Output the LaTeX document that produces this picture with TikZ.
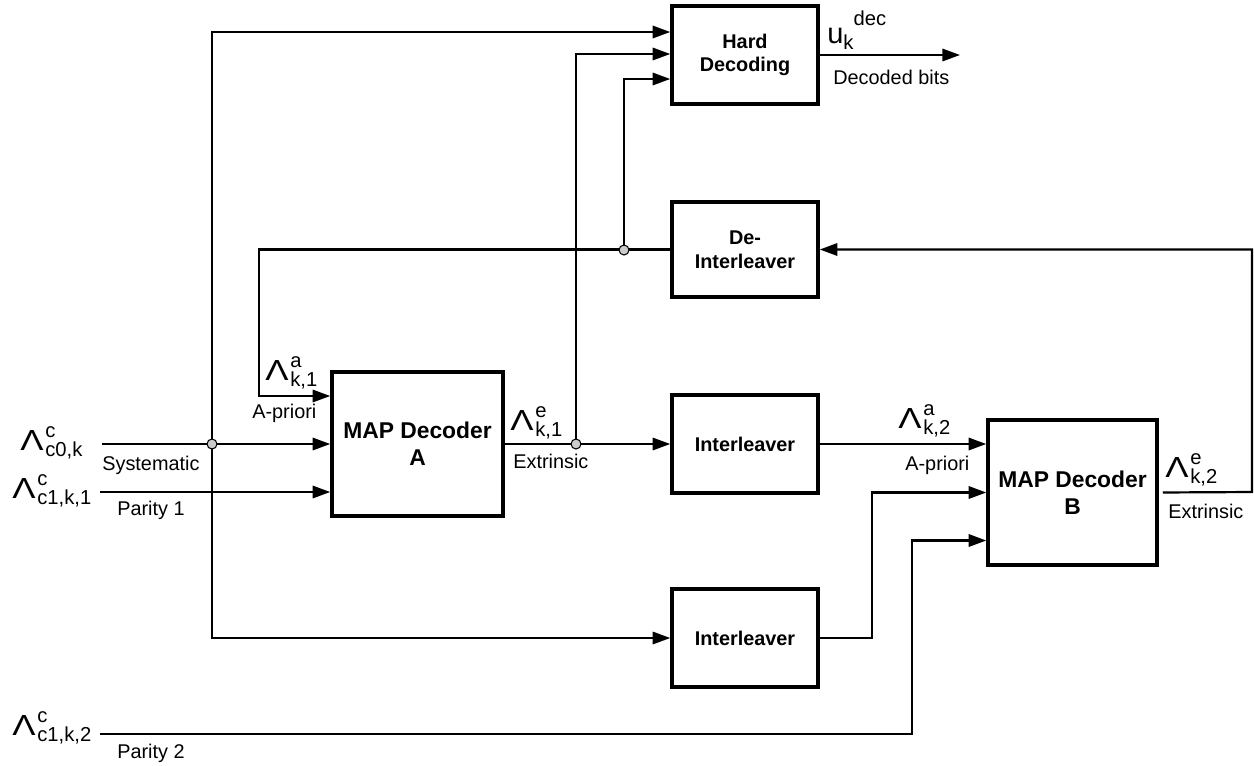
\documentclass[tikz,border=0pt]{standalone}
\usepackage{fontspec}
\usepackage{graphicx}
\setmainfont{Liberation Sans}
\usetikzlibrary{arrows.meta,calc}

% 对数似然比记号
\newcommand{\llr}[2]{\scalebox{1.2}[1]{\fontsize{16.5}{18}\selectfont Λ}\kern1pt\rlap{\raisebox{7pt}{\fontsize{11.5}{13}\selectfont #1}}\raisebox{-3.5pt}{\fontsize{11.5}{13}\selectfont #2}}

\begin{document}
\begin{tikzpicture}[x=0.02cm,y=-0.02cm,
    box/.style={draw, line width=2pt, align=center, inner sep=0pt,
        font=\fontsize{11.3}{13.5}\selectfont\bfseries},
    bigbox/.style={box, font=\fontsize{13}{15.5}\selectfont\bfseries},
    sig/.style={line width=1.25pt},
    flow/.style={sig, -{Triangle[length=10pt,width=7pt]}},
    lbl/.style={inner sep=0pt, anchor=base west, font=\fontsize{11.3}{13.5}\selectfont},
    joint/.style={circle, draw, fill=gray!40, line width=0.6pt, inner sep=0pt, minimum size=0.2cm}]
    \useasboundingbox (0,0) rectangle (1254,765);

    % 绘制方框
    \node[box, minimum width=2.92cm, minimum height=1.96cm] (hard) at (745,55) {Hard\\Decoding};
    \node[box, minimum width=2.92cm, minimum height=1.9cm] (deint) at (745,249.5) {De-\\Interleaver};
    \node[bigbox, minimum width=3.42cm, minimum height=2.88cm] (mapA) at (417.5,444) {MAP Decoder\\A};
    \node[box, minimum width=2.92cm, minimum height=1.96cm] (intlA) at (745,444) {Interleaver};
    \node[box, minimum width=2.92cm, minimum height=1.96cm] (intlB) at (745,638) {Interleaver};
    \node[bigbox, minimum width=3.38cm, minimum height=2.9cm] (mapB) at (1072.5,492.5) {MAP Decoder\\B};

    % 输入端与分支点
    \coordinate (sysIn) at (102,444);
    \coordinate (par1In) at (100,492);
    \coordinate (par2In) at (100,734);
    \coordinate (jSys) at (212,444);
    \coordinate (jExt) at (576,444);
    \coordinate (jDe) at (624,250);
    \coordinate (fbTurn) at (1252,492);
    \coordinate (hardOut) at (960,55);

    % 绘制译码器 A 的输入
    \draw[flow] (sysIn) -- (mapA.west);
    \draw[flow] (par1In) -- (par1In -| mapA.west);
    \draw[flow] (deint.west) -| ($(mapA.west)+(-71,-48)$) -- ($(mapA.west)+(0,-48)$);

    % 系统位分支
    \draw[flow] (jSys) |- ($(hard.west)+(0,-23)$);
    \draw[flow] (jSys) |- (intlB.west);

    % 外信息与交织
    \draw[flow] (mapA.east) -- (intlA.west);
    \draw[flow] (jExt) |- ($(hard.west)+(0,-1)$);
    \draw[flow] (jDe) |- ($(hard.west)+(0,24)$);
    \draw[flow] (intlA.east) -- (intlA.east -| mapB.west);
    \draw[flow] (intlB.east) -| ($(mapB.west)+(-114,0)$) -- (mapB.west);
    \draw[flow] (par2In) -| ($(mapB.west)+(-74,48)$) -- ($(mapB.west)+(0,48)$);

    % 反馈回路
    \draw[flow, shorten <=0.08cm] (mapB.east) -- (fbTurn) |- (deint.east);

    % 硬判决输出
    \draw[flow] (hard.east) -- (hardOut);

    % 分支圆点
    \node[joint] (jSysDot) at (jSys) {};
    \node[joint] (jExtDot) at (jExt) {};
    \node[joint] (jDeDot) at (jDe) {};

    % 标注
    \node[lbl] (sysLam) at (20,450) {\llr{c}{c0,k}};
    \node[lbl] (sysTxt) at (102,470) {Systematic};
    \node[lbl] (par1Lam) at (12,498) {\llr{c}{c1,k,1}};
    \node[lbl] (par1Txt) at (117,515) {Parity 1};
    \node[lbl] (par2Lam) at (12,735) {\llr{c}{c1,k,2}};
    \node[lbl] (par2Txt) at (117,758) {Parity 2};
    \node[lbl] (aprALam) at (265,380) {\llr{a}{k,1}};
    \node[lbl] (aprATxt) at (252,418) {A-priori};
    \node[lbl] (extALam) at (510,430) {\llr{e}{k,1}};
    \node[lbl] (extATxt) at (513,468) {Extrinsic};
    \node[lbl] (aprBLam) at (898,428) {\llr{a}{k,2}};
    \node[lbl] (aprBTxt) at (905,470) {A-priori};
    \node[lbl] (extBLam) at (1165,477) {\llr{e}{k,2}};
    \node[lbl] (extBTxt) at (1168,518) {Extrinsic};
    \node[lbl] (decLam) at (827,43) {{\fontsize{16.5}{18}\selectfont u}\raisebox{-3.5pt}{\fontsize{11.5}{13}\selectfont k}\raisebox{10pt}{\fontsize{11.5}{13}\selectfont dec}};
    \node[lbl] (decTxt) at (833,84) {Decoded bits};
\end{tikzpicture}
\end{document}
